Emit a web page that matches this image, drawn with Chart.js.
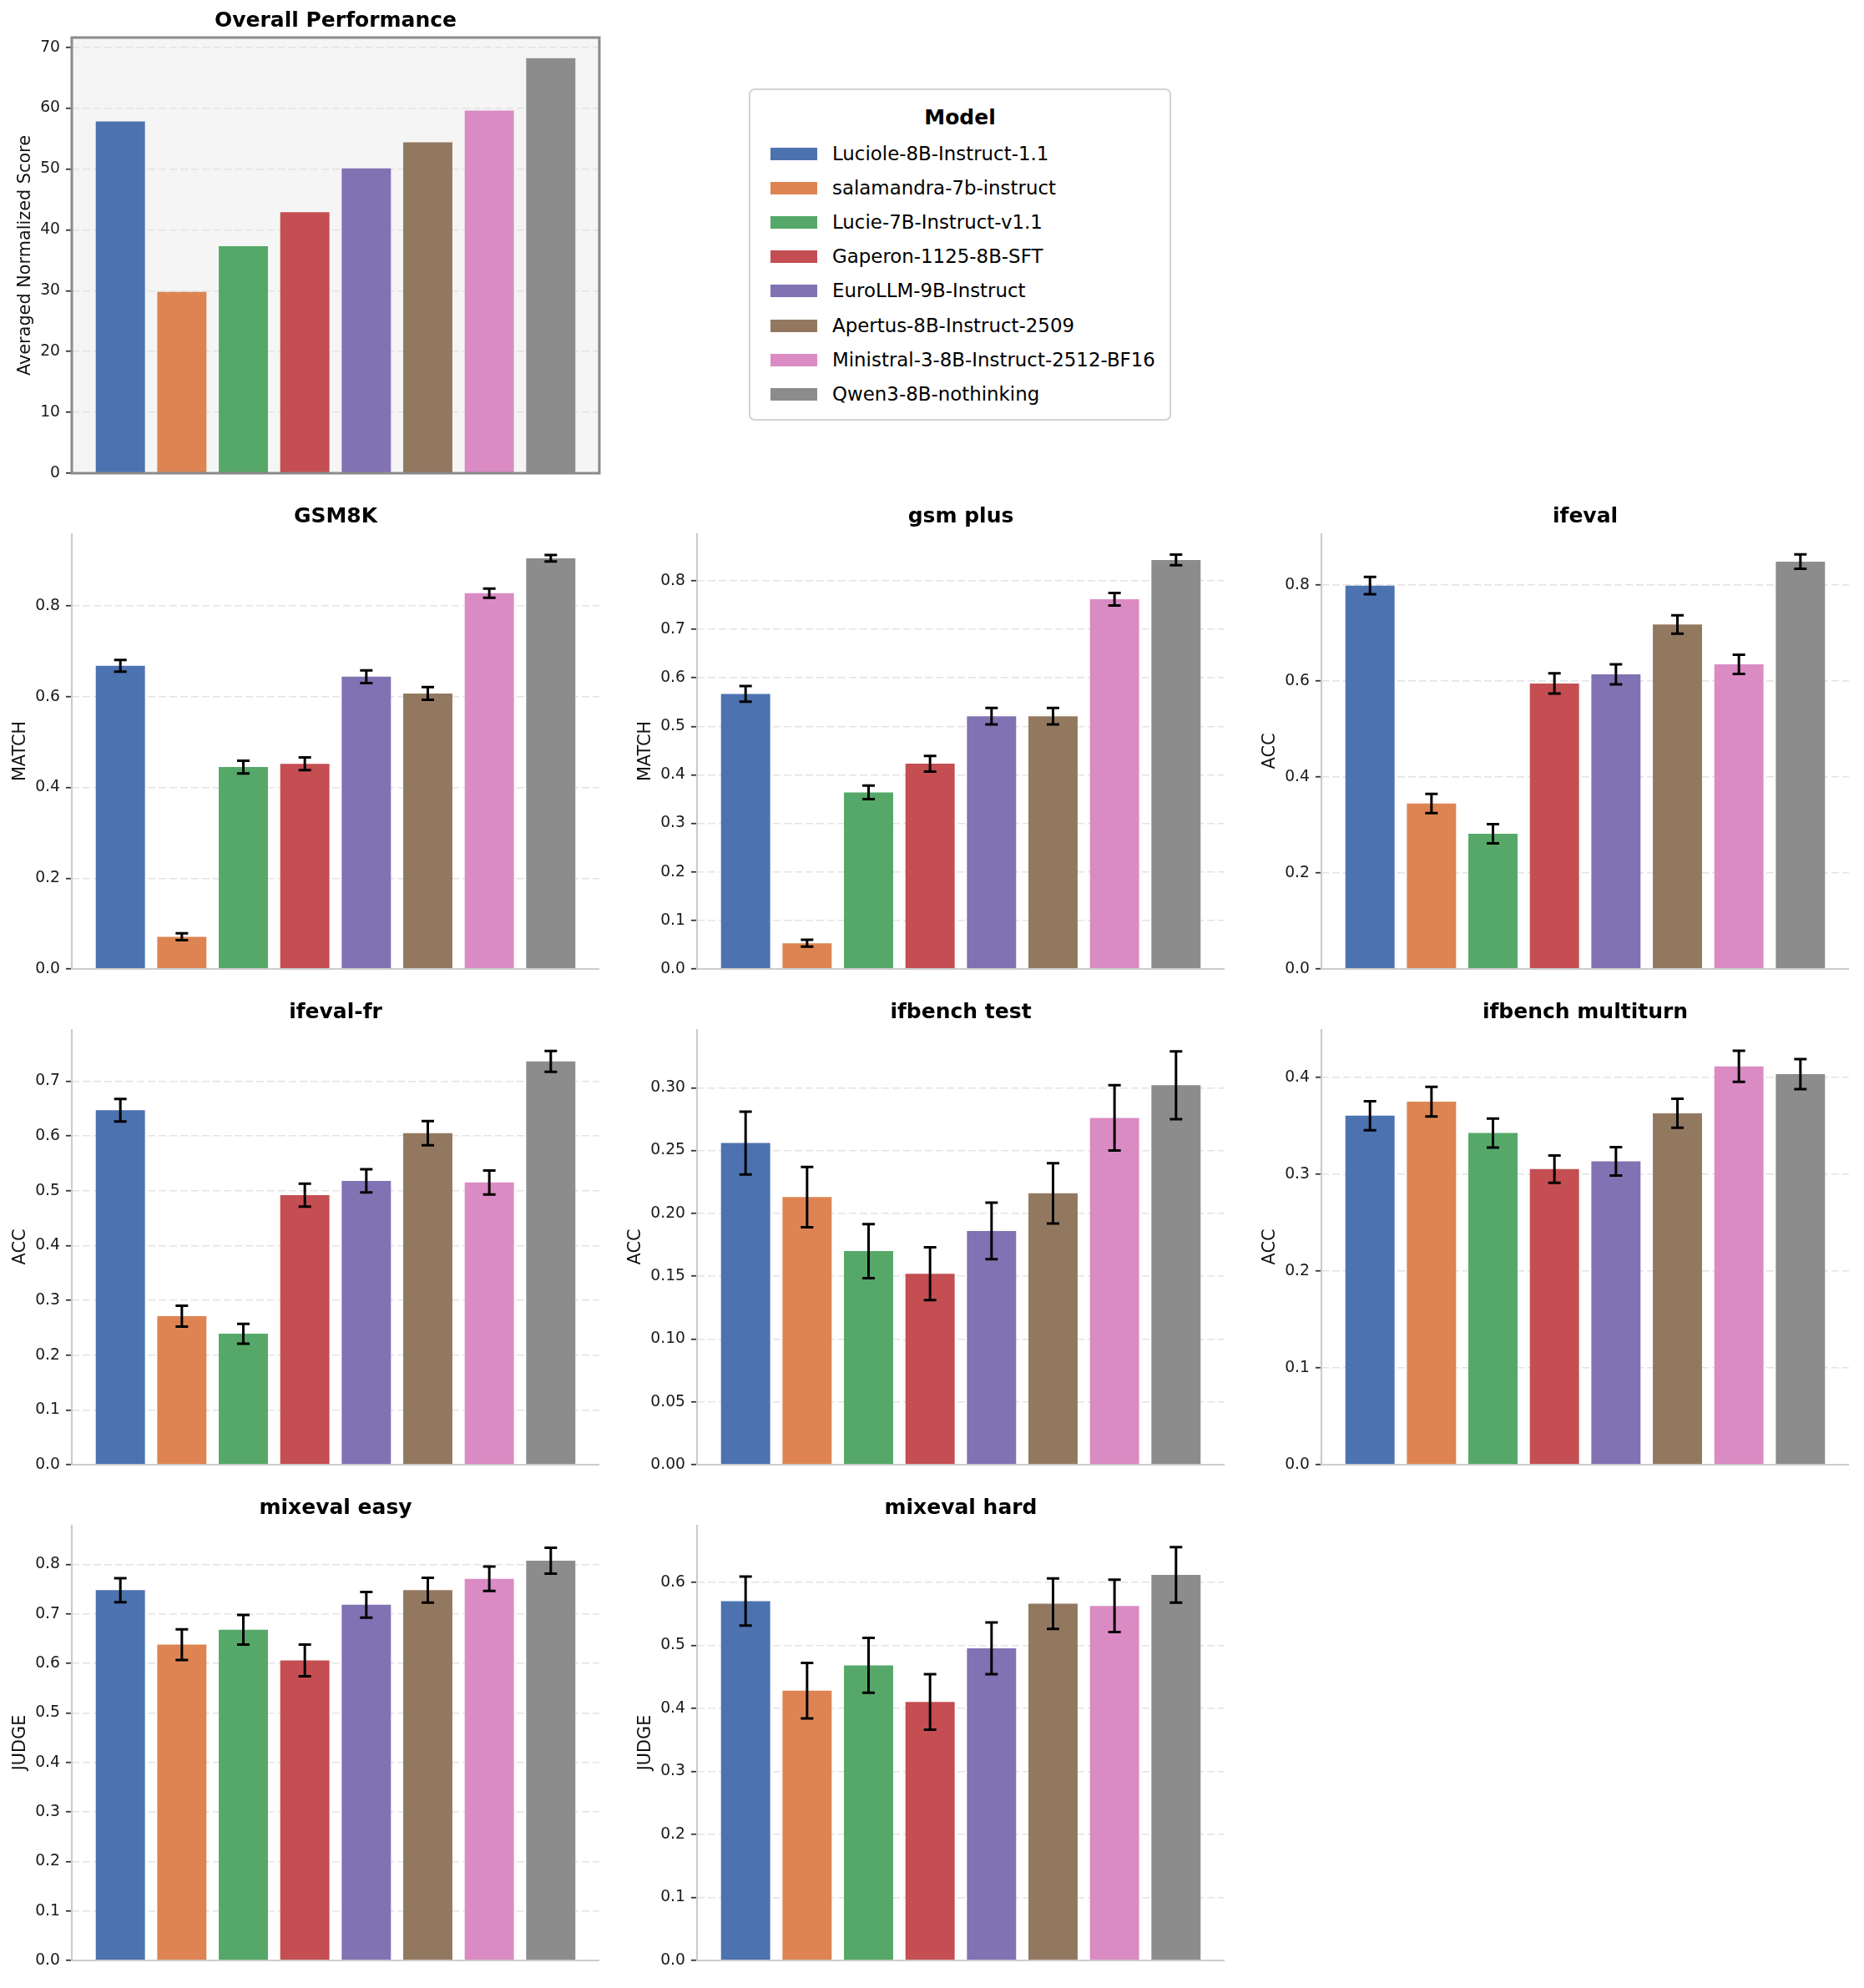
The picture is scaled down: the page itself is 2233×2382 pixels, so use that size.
<!DOCTYPE html>
<html><head><meta charset="utf-8">
<script src="https://cdn.jsdelivr.net/npm/chart.js@4.4.0/dist/chart.umd.min.js"></script>
<style>
html,body{margin:0;padding:0;background:#fff;}
body{width:2233px;height:2382px;position:relative;overflow:hidden;font-family:"DejaVu Sans",sans-serif;}
canvas{position:absolute;}
#legend{position:absolute;left:897px;top:106px;width:502px;height:394px;border:2px solid #d3d3d3;border-radius:7px;background:#fff;}
#legend .lt{position:absolute;left:0;right:0;top:18px;text-align:center;font-weight:bold;font-size:25px;line-height:30px;color:#000;}
#legend .row{position:absolute;left:0;height:30px;}
#legend .sw{position:absolute;left:24px;top:8px;width:56px;height:15px;}
#legend .lb{position:absolute;left:98px;top:0;font-size:22.9px;line-height:30px;white-space:nowrap;color:#000;}
</style></head><body>
<div id="legend"><div class="lt">Model</div></div>
<script>
// ---------------- DATA ----------------
const models = ["Luciole-8B-Instruct-1.1","salamandra-7b-instruct","Lucie-7B-Instruct-v1.1","Gaperon-1125-8B-SFT","EuroLLM-9B-Instruct","Apertus-8B-Instruct-2509","Ministral-3-8B-Instruct-2512-BF16","Qwen3-8B-nothinking"];
const colors = ["#4C72B0","#DD8452","#55A868","#C44E52","#8172B3","#937860","#DA8BC3","#8C8C8C"];
const barPositions = [0, 1, 2, 3, 4, 5, 6, 7];

const overallScores = [57.8, 29.8, 37.3, 42.9, 50.1, 54.4, 59.6, 68.2];
const overallTicks = [0, 10, 20, 30, 40, 50, 60, 70];

const gsm8kScores = [0.668, 0.071, 0.445, 0.452, 0.644, 0.607, 0.828, 0.905];
const gsm8kErrors = [0.013, 0.0075, 0.014, 0.014, 0.014, 0.014, 0.010, 0.007];
const gsm8kTicks = [0.0, 0.2, 0.4, 0.6, 0.8];

const gsmPlusScores = [0.567, 0.053, 0.364, 0.423, 0.521, 0.521, 0.762, 0.843];
const gsmPlusErrors = [0.016, 0.007, 0.014, 0.016, 0.017, 0.017, 0.013, 0.011];
const gsmPlusTicks = [0.0, 0.1, 0.2, 0.3, 0.4, 0.5, 0.6, 0.7, 0.8];

const ifevalScores = [0.799, 0.345, 0.282, 0.595, 0.614, 0.718, 0.635, 0.849];
const ifevalErrors = [0.018, 0.020, 0.020, 0.021, 0.021, 0.019, 0.020, 0.015];
const ifevalTicks = [0.0, 0.2, 0.4, 0.6, 0.8];

const ifevalFrScores = [0.647, 0.271, 0.239, 0.492, 0.518, 0.605, 0.515, 0.736];
const ifevalFrErrors = [0.0205, 0.019, 0.018, 0.021, 0.021, 0.022, 0.022, 0.019];
const ifevalFrTicks = [0.0, 0.1, 0.2, 0.3, 0.4, 0.5, 0.6, 0.7];

const ifbenchTestScores = [0.256, 0.213, 0.170, 0.152, 0.186, 0.216, 0.276, 0.302];
const ifbenchTestErrors = [0.025, 0.024, 0.0215, 0.021, 0.0225, 0.024, 0.026, 0.027];
const ifbenchTestTicks = [0.00, 0.05, 0.10, 0.15, 0.20, 0.25, 0.30];

const ifbenchMultiScores = [0.3605, 0.375, 0.3426, 0.3053, 0.3133, 0.363, 0.4115, 0.4035];
const ifbenchMultiErrors = [0.015, 0.0153, 0.015, 0.0142, 0.0147, 0.015, 0.016, 0.0155];
const ifbenchMultiTicks = [0.0, 0.1, 0.2, 0.3, 0.4];

const mixevalEasyScores = [0.748, 0.638, 0.668, 0.606, 0.7185, 0.748, 0.771, 0.8075];
const mixevalEasyErrors = [0.0243, 0.031, 0.030, 0.032, 0.026, 0.025, 0.0246, 0.026];
const mixevalEasyTicks = [0.0, 0.1, 0.2, 0.3, 0.4, 0.5, 0.6, 0.7, 0.8];

const mixevalHardScores = [0.570, 0.428, 0.468, 0.410, 0.495, 0.566, 0.5624, 0.6117];
const mixevalHardErrors = [0.039, 0.044, 0.0435, 0.044, 0.041, 0.040, 0.0415, 0.044];
const mixevalHardTicks = [0.0, 0.1, 0.2, 0.3, 0.4, 0.5, 0.6];

// y-axis upper limits
const yLimits = {overall:71.6, gsm8k:0.96, gsmPlus:0.898, ifeval:0.908, ifevalFr:0.795, ifbenchTest:0.3467, ifbenchMulti:0.450, mixevalEasy:0.880, mixevalHard:0.691};

// ---------------- LAYOUT ----------------
const FONT = '"DejaVu Sans", sans-serif';
const PLOT_W = 632, PLOT_H = 522;
const PADL = 100, TITLE_H = 35, XH = 20, PADR = 12;
const TICK_SIZE = 18.75, LABEL_SIZE = 20.8;
const colX = [86, 835, 1583];
const rowY = [45, 639, 1233, 1827];

const panels = [
  {title:"Overall Performance", ylabel:"Averaged Normalized Score", scores:overallScores, errors:null, ticks:overallTicks, ymax:yLimits.overall, dec:0, left:colX[0], top:rowY[0], overall:true},
  {title:"GSM8K", ylabel:"MATCH", scores:gsm8kScores, errors:gsm8kErrors, ticks:gsm8kTicks, ymax:yLimits.gsm8k, dec:1, left:colX[0], top:rowY[1]},
  {title:"gsm plus", ylabel:"MATCH", scores:gsmPlusScores, errors:gsmPlusErrors, ticks:gsmPlusTicks, ymax:yLimits.gsmPlus, dec:1, left:colX[1], top:rowY[1]},
  {title:"ifeval", ylabel:"ACC", scores:ifevalScores, errors:ifevalErrors, ticks:ifevalTicks, ymax:yLimits.ifeval, dec:1, left:colX[2], top:rowY[1]},
  {title:"ifeval-fr", ylabel:"ACC", scores:ifevalFrScores, errors:ifevalFrErrors, ticks:ifevalFrTicks, ymax:yLimits.ifevalFr, dec:1, left:colX[0], top:rowY[2]},
  {title:"ifbench test", ylabel:"ACC", scores:ifbenchTestScores, errors:ifbenchTestErrors, ticks:ifbenchTestTicks, ymax:yLimits.ifbenchTest, dec:2, left:colX[1], top:rowY[2]},
  {title:"ifbench multiturn", ylabel:"ACC", scores:ifbenchMultiScores, errors:ifbenchMultiErrors, ticks:ifbenchMultiTicks, ymax:yLimits.ifbenchMulti, dec:1, left:colX[2], top:rowY[2]},
  {title:"mixeval easy", ylabel:"JUDGE", scores:mixevalEasyScores, errors:mixevalEasyErrors, ticks:mixevalEasyTicks, ymax:yLimits.mixevalEasy, dec:1, left:colX[0], top:rowY[3]},
  {title:"mixeval hard", ylabel:"JUDGE", scores:mixevalHardScores, errors:mixevalHardErrors, ticks:mixevalHardTicks, ymax:yLimits.mixevalHard, dec:1, left:colX[1], top:rowY[3]}
];

// ---------------- PLUGINS ----------------
const panelDecor = {
  id:'panelDecor',
  beforeDraw(chart, args, opts){
    if(!opts.overall) return;
    const a = chart.chartArea, c = chart.ctx;
    c.save(); c.fillStyle = '#f5f5f5'; c.fillRect(a.left, a.top, a.right-a.left, a.bottom-a.top); c.restore();
  },
  afterDatasetsDraw(chart, args, opts){
    const c = chart.ctx, a = chart.chartArea;
    const meta = chart.getDatasetMeta(0), ys = chart.scales.y;
    if(opts.errors){
      c.save(); c.strokeStyle = '#000'; c.lineWidth = 3; c.lineCap = 'butt';
      opts.scores.forEach((v,i)=>{
        const e = opts.errors[i], x = meta.data[i].x;
        const y1 = ys.getPixelForValue(v+e), y2 = ys.getPixelForValue(v-e);
        c.beginPath();
        c.moveTo(x, y1); c.lineTo(x, y2);
        c.moveTo(x-7.5, y1); c.lineTo(x+7.5, y1);
        c.moveTo(x-7.5, y2); c.lineTo(x+7.5, y2);
        c.stroke();
      });
      c.restore();
    }
    c.save();
    if(opts.overall){
      c.strokeStyle = '#8a8a8a'; c.lineWidth = 3;
      c.strokeRect(a.left, a.top, a.right-a.left, a.bottom-a.top);
    } else {
      c.strokeStyle = '#cccccc'; c.lineWidth = 2.2;
      c.beginPath(); c.moveTo(a.left, a.top); c.lineTo(a.left, a.bottom); c.lineTo(a.right, a.bottom); c.stroke();
    }
    c.restore();
  }
};

// ---------------- CHARTS ----------------
function makeChart(p){
  const cv = document.createElement('canvas');
  const W = PADL + PLOT_W + PADR, H = TITLE_H + PLOT_H + XH;
  cv.width = W; cv.height = H;
  cv.style.width = W+'px'; cv.style.height = H+'px';
  cv.style.left = (p.left - PADL)+'px'; cv.style.top = (p.top - TITLE_H)+'px';
  document.body.appendChild(cv);
  const mctx = cv.getContext('2d');
  mctx.font = TICK_SIZE + 'px ' + FONT;
  const widest = Math.max(...p.ticks.map(t => mctx.measureText(t.toFixed(p.dec)).width));
  const cx = PADL - 7 - 7 - widest - 8.3 - 12.1 + 3;
  const lh = LABEL_SIZE*1.2;
  new Chart(cv, {
    type:'bar',
    data:{ datasets:[{ data:p.scores.map((v,i)=>({x:barPositions[i], y:v})), backgroundColor:colors, borderWidth:0, categoryPercentage:1, barPercentage:0.8 }] },
    options:{
      responsive:false, animation:false, devicePixelRatio:1,
      layout:{padding:{left:0, right:PADR, top:0, bottom:0}},
      plugins:{
        legend:{display:false}, tooltip:{enabled:false},
        title:{display:true, text:p.title, fullSize:false, color:'#000', font:{family:FONT, size:25, weight:'bold', lineHeight:1.2}, padding:{top:0, bottom:5}},
        panelDecor:{overall:!!p.overall, errors:p.errors, scores:p.scores}
      },
      scales:{
        x:{ type:'linear', min:-0.79, max:7.79, offset:false,
            afterBuildTicks:s=>{ s.ticks = barPositions.map(v=>({value:v})); },
            ticks:{display:false}, grid:{display:false, drawTicks:false}, border:{display:false},
            afterFit:s=>{ s.height = XH; } },
        y:{ min:0, max:p.ymax,
            afterFit:s=>{ s.width = PADL; },
            afterBuildTicks:s=>{ s.ticks = p.ticks.map(v=>({value:v})); },
            ticks:{ font:{family:FONT, size:TICK_SIZE}, color:'#1a1a1a', padding:7, callback:v=>Number(v).toFixed(p.dec) },
            grid:{ color:'#e3e3e3', lineWidth:1.5, tickLength:7, tickColor:'#333', tickWidth:1.8, drawTicks:true },
            border:{ display:false, dash:[9,4] },
            title:{ display:true, text:p.ylabel, color:'#111', font:{family:FONT, size:LABEL_SIZE, lineHeight:1.2}, padding:{top:cx - lh/2, bottom:0} } }
      }
    },
    plugins:[panelDecor]
  });
}
panels.forEach(makeChart);

// ---------------- LEGEND ----------------
const lg = document.getElementById('legend');
models.forEach((m,i)=>{
  const r = document.createElement('div'); r.className='row'; r.style.top = (61 + 41.1*i)+'px'; r.style.width='100%';
  const s = document.createElement('div'); s.className='sw'; s.style.background = colors[i];
  const t = document.createElement('div'); t.className='lb'; t.textContent = m;
  r.appendChild(s); r.appendChild(t); lg.appendChild(r);
});
</script>
</body></html>
